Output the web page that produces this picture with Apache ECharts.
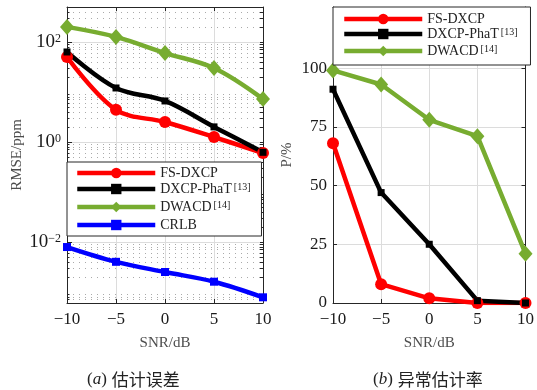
<!DOCTYPE html>
<html>
<head>
<meta charset="utf-8">
<script src="https://cdn.jsdelivr.net/npm/echarts@6/dist/echarts.min.js"></script>
<style>
  html, body { margin: 0; padding: 0; background: #fff; }
  #chart { width: 537px; height: 390px; }
</style>
</head>
<body>
<div id="chart"></div>
<script>
// SNR sweep shared by both panels
const snr = [-10, -5, 0, 5, 10];

// (a) RMSE in ppm (log scale)
const rmseFS = [50, 4.4, 2.5, 1.25, 0.6];
const rmsePhaT = [63, 12, 6.6, 2.0, 0.62];
const rmseDWACD = [200, 126, 60, 30, 7.2];
const rmseCRLB = [0.0079, 0.0040, 0.0025, 0.0016, 0.00078];

// (b) outlier rate in %
const pFS = [68, 8, 2, 0, 0];
const pPhaT = [91, 47, 25, 1, 0];
const pDWACD = [99, 93, 78, 71, 21];

// axis ticks
const xTicks = [-10, -5, 0, 5, 10];
const logMajor = [0.01, 1, 100];
const pTicks = [0, 25, 50, 75, 100];

const names = ['FS-DXCP', 'DXCP-PhaT', 'DWACD', 'CRLB'];
const refs = { 'DXCP-PhaT': '[13]', 'DWACD': '[14]' };
const colors = ['#ff0000', '#000000', '#77ac30', '#0000ff'];

const LOG_MIN = 0.0006, LOG_MAX = 500;
const logMinor = [];
for (let k = -4; k <= 2; k++) {
  for (let m = 2; m <= 9; m++) {
    const v = +(m * Math.pow(10, k)).toPrecision(3);
    if (v >= LOG_MIN && v <= LOG_MAX) logMinor.push(v);
  }
}

const serif = '"Liberation Serif", "Times New Roman", serif';
const cjk = '"Noto Sans CJK SC", sans-serif';
const axisDark = '#262626';
const gridGrey = '#dcdcdc';

function pairs(ys) { return snr.map((x, i) => [x, ys[i]]); }
const minus = v => String(v).replace('-', '\u2212');

const styles = [
  { symbol: 'circle', symbolSize: 12 },
  { symbol: 'rect', symbolSize: 7 },
  { symbol: 'diamond', symbolSize: [14, 16] },
  { symbol: 'rect', symbolSize: 8 }
];

function makeSeries(i, data, xi, yi, smooth) {
  return {
    type: 'line', name: names[i], data: pairs(data),
    xAxisIndex: xi, yAxisIndex: yi,
    smooth: smooth, symbol: styles[i].symbol, symbolSize: styles[i].symbolSize,
    lineStyle: { color: colors[i], width: 4.5 },
    itemStyle: { color: colors[i] },
    showAllSymbol: true, animation: false
  };
}

const legendText = {
  fontFamily: serif, fontSize: 14, color: '#222', lineHeight: 14,
  rich: {
    n: { fontFamily: serif, fontSize: 14, color: '#222', lineHeight: 14 },
    s: { fontFamily: serif, fontSize: 10, color: '#222', lineHeight: 14, verticalAlign: 'top', padding: [0, 0, 6, 2] }
  }
};
const legendFmt = name => refs[name] ? '{n|' + name + '}{s|' + refs[name] + '}' : '{n|' + name + '}';

const frameLine = { show: true, onZero: false, lineStyle: { color: axisDark, width: 1 } };

function xAxisPair(gi) {
  return [
    {
      type: 'value', gridIndex: gi, min: -10, max: 10, interval: 5, position: 'bottom',
      axisLine: frameLine,
      axisTick: { show: true, inside: true, length: 4, lineStyle: { color: axisDark } },
      axisLabel: { fontFamily: serif, fontSize: 17, color: '#1a1a1a', margin: 8, formatter: minus },
      splitLine: { show: true, lineStyle: { color: gridGrey, width: 1 } },
      name: 'SNR/dB', nameLocation: 'middle', nameGap: 33,
      nameTextStyle: { fontFamily: serif, fontSize: 15, color: '#4d4d4d' }
    },
    {
      type: 'value', gridIndex: gi, min: -10, max: 10, interval: 5, position: 'top',
      axisLine: frameLine,
      axisTick: { show: true, inside: true, length: 4, lineStyle: { color: axisDark } },
      axisLabel: { show: false }, splitLine: { show: false }
    }
  ];
}

const captionRich = {
  p: { fontFamily: serif, fontSize: 17, color: '#222', fontWeight: 'normal' },
  i: { fontFamily: serif, fontSize: 17, color: '#222', fontStyle: 'italic', fontWeight: 'normal' },
  c: { fontFamily: cjk, fontSize: 17, color: '#222', fontWeight: 'normal' }
};

const option = {
  animation: false,
  backgroundColor: '#fff',
  grid: [
    { left: 67, top: 7, width: 196, height: 296 },
    { left: 333, top: 7, width: 194, height: 296 }
  ],
  xAxis: [...xAxisPair(0), ...xAxisPair(1)],
  yAxis: [
    // (a) major decades with labels
    {
      type: 'log', logBase: 10, gridIndex: 0, min: LOG_MIN, max: LOG_MAX, position: 'left',
      axisLine: frameLine,
      axisTick: { show: true, inside: true, length: 5, customValues: logMajor, lineStyle: { color: axisDark } },
      axisLabel: {
        customValues: logMajor, margin: 6,
        formatter: v => '{b|10}{e|' + minus(Math.round(Math.log10(v))) + '}',
        rich: {
          b: { fontFamily: serif, fontSize: 19, color: '#1a1a1a', lineHeight: 19 },
          e: { fontFamily: serif, fontSize: 12, color: '#1a1a1a', lineHeight: 19, verticalAlign: 'top', padding: [0, 0, 9, 0] }
        }
      },
      splitLine: { show: true, lineStyle: { color: gridGrey, width: 1 } },
      name: 'RMSE/ppm', nameLocation: 'middle', nameGap: 42, nameRotate: 90,
      nameTextStyle: { fontFamily: serif, fontSize: 15, color: '#4d4d4d' }
    },
    // (a) minor dotted grid
    {
      type: 'log', logBase: 10, gridIndex: 0, min: LOG_MIN, max: LOG_MAX, position: 'left',
      axisLine: { show: false, onZero: false },
      axisTick: { show: true, inside: true, length: 2.5, customValues: logMinor, lineStyle: { color: axisDark } },
      axisLabel: { show: false },
      splitLine: { show: true, lineStyle: { color: '#aaaaaa', width: 1, type: [1, 5] } }
    },
    // (a) right frame edge
    {
      type: 'log', logBase: 10, gridIndex: 0, min: LOG_MIN, max: LOG_MAX, position: 'right',
      axisLine: frameLine,
      axisTick: { show: true, inside: true, length: 3, customValues: logMajor.concat(logMinor), lineStyle: { color: axisDark } },
      axisLabel: { show: false }, splitLine: { show: false }
    },
    // (b) percentage axis
    {
      type: 'value', gridIndex: 1, min: 0, max: 126, position: 'left',
      axisLine: frameLine,
      axisTick: { show: true, inside: true, length: 4, customValues: pTicks, lineStyle: { color: axisDark } },
      axisLabel: { customValues: pTicks, fontFamily: serif, fontSize: 17, color: '#1a1a1a', margin: 6 },
      splitLine: { show: true, lineStyle: { color: gridGrey, width: 1 } },
      name: 'P/%', nameLocation: 'middle', nameGap: 38, nameRotate: 90,
      nameTextStyle: { fontFamily: serif, fontSize: 15, color: '#4d4d4d' }
    },
    {
      type: 'value', gridIndex: 1, min: 0, max: 126, position: 'right',
      axisLine: frameLine,
      axisTick: { show: true, inside: true, length: 4, customValues: pTicks, lineStyle: { color: axisDark } },
      axisLabel: { show: false }, splitLine: { show: false }
    }
  ],
  legend: [
    {
      data: names, left: 67, top: 162, orient: 'vertical',
      itemWidth: 78, itemHeight: 13, itemGap: 2,
      padding: [4, 11, 4, 8],
      backgroundColor: '#fff', borderColor: axisDark, borderWidth: 1,
      lineStyle: { width: 4.5 },
      textStyle: legendText, formatter: legendFmt, selectedMode: false
    },
    {
      data: names.slice(0, 3), left: 333, top: 7, orient: 'vertical',
      itemWidth: 78, itemHeight: 13, itemGap: 1,
      padding: [5, 13, 5, 9],
      backgroundColor: '#fff', borderColor: axisDark, borderWidth: 1,
      lineStyle: { width: 4.5 },
      textStyle: legendText, formatter: legendFmt, selectedMode: false
    }
  ],
  title: [
    {
      text: '{p|(}{i|a}{p|)} {c|估计误差}', left: 82, top: 366,
      textStyle: { fontWeight: 'normal', rich: captionRich }
    },
    {
      text: '{p|(}{i|b}{p|)} {c|异常估计率}', left: 368, top: 366,
      textStyle: { fontWeight: 'normal', rich: captionRich }
    }
  ],
  series: [
    makeSeries(0, rmseFS, 0, 0, 0.35),
    makeSeries(1, rmsePhaT, 0, 0, 0.35),
    makeSeries(2, rmseDWACD, 0, 0, 0.35),
    makeSeries(3, rmseCRLB, 0, 0, 0.35),
    makeSeries(0, pFS, 2, 3, false),
    makeSeries(1, pPhaT, 2, 3, false),
    makeSeries(2, pDWACD, 2, 3, false)
  ]
};

const chart = echarts.init(document.getElementById('chart'), null, { renderer: 'canvas' });
chart.setOption(option);
</script>
</body>
</html>
